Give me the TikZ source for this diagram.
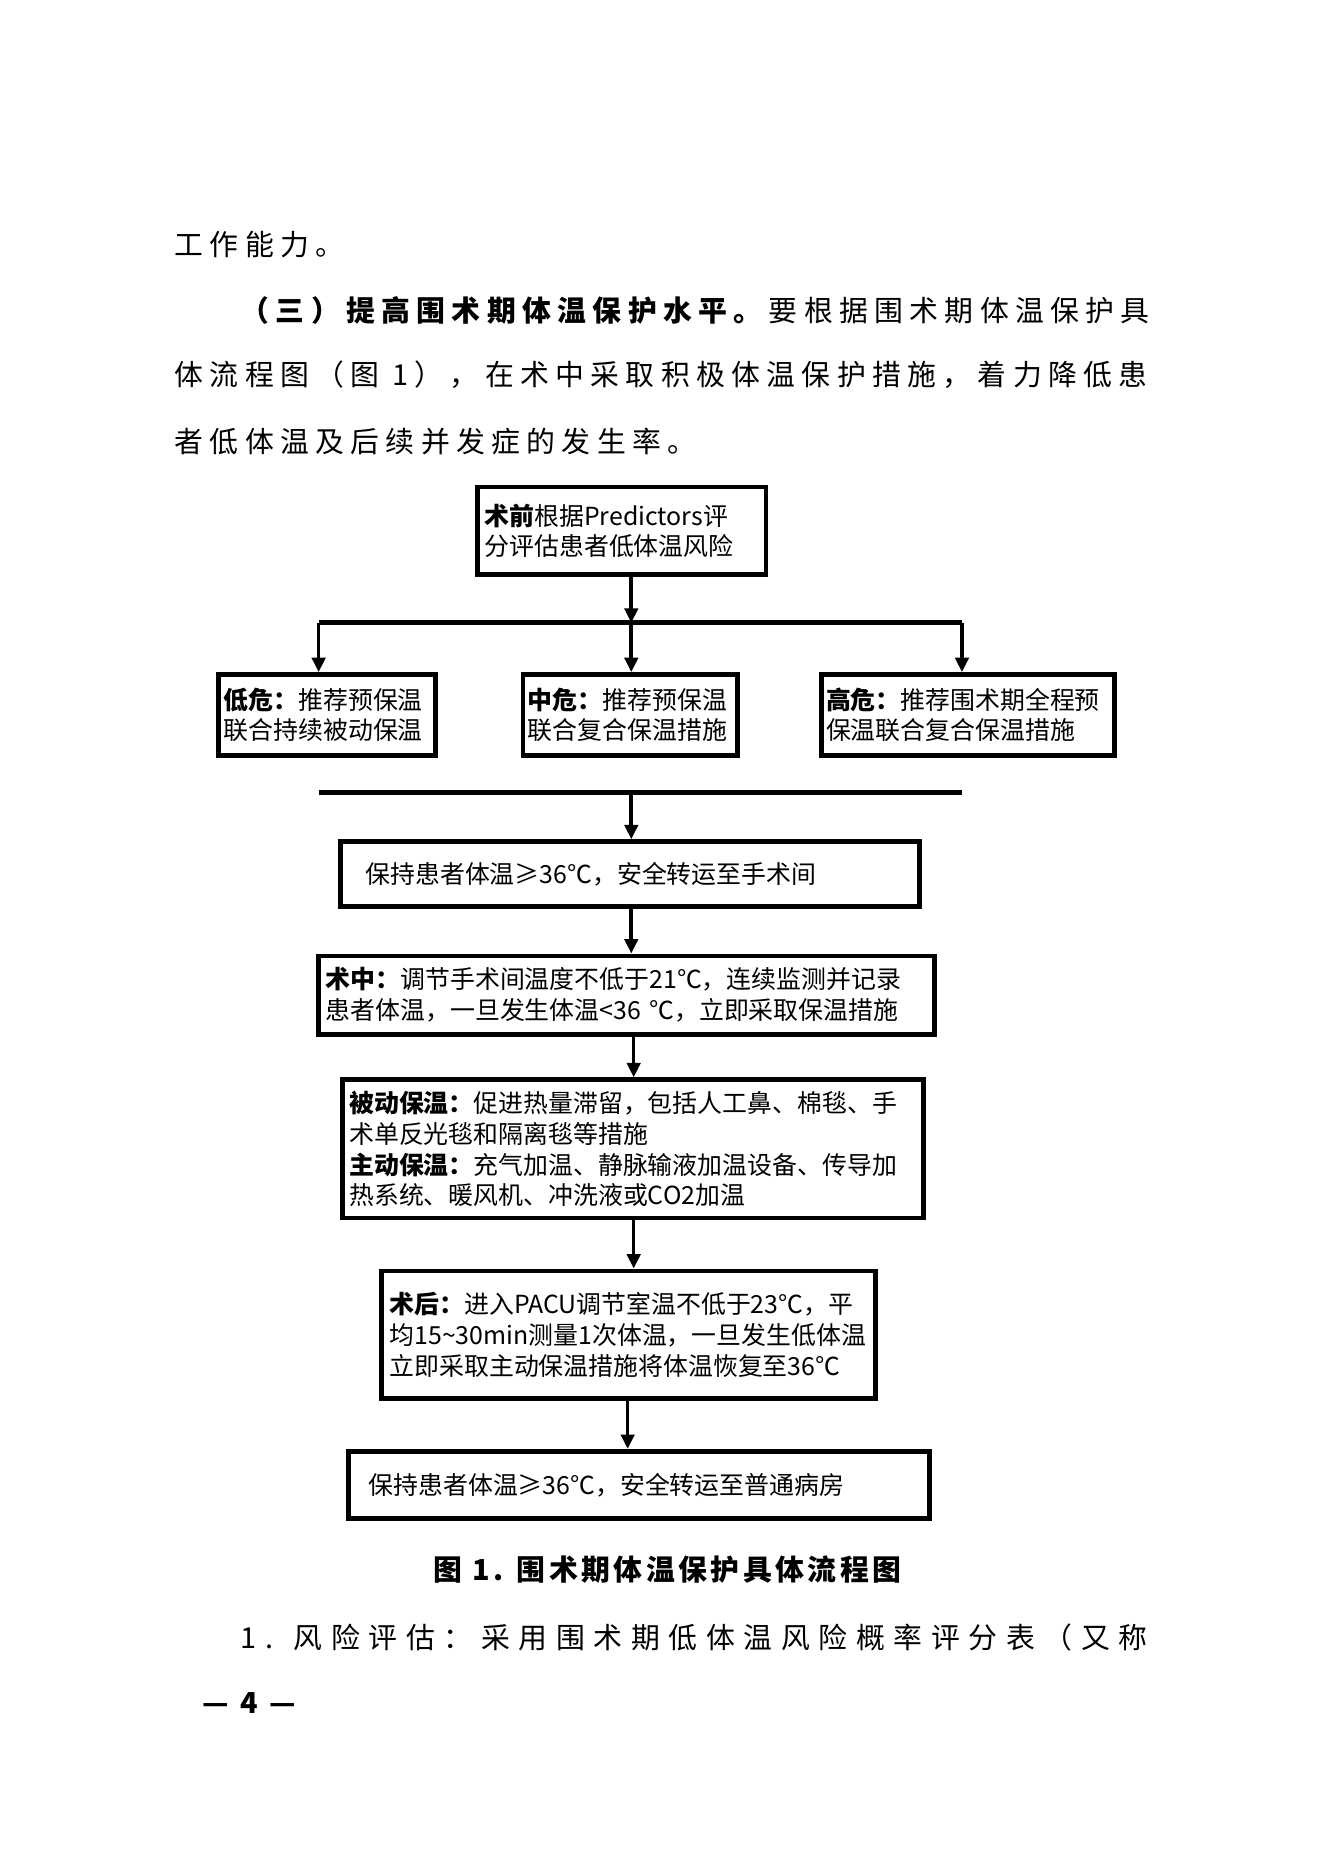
\documentclass[tikz,border=0pt]{standalone}
\usepackage{fontspec}
\setmainfont{Noto Sans CJK SC}
\newfontfamily\bodyf[LetterSpace=22]{Noto Sans CJK SC}
\newfontfamily\bodyw[LetterSpace=30]{Noto Sans CJK SC}
\newfontfamily\capf[LetterSpace=12]{Noto Sans CJK SC}
\usetikzlibrary{arrows.meta}
\tikzset{
  box/.style={draw, line width=4pt, fill=white, inner sep=0pt, font=\fontsize{20.7}{25.7}\selectfont, align=left},
  arr/.style={line width=3pt, -{Triangle[length=12pt,width=11pt]}},
  bar/.style={line width=4pt},
  body/.style={anchor=west, inner sep=0pt, font=\bodyf\fontsize{24}{30}\selectfont}
}
\begin{document}
\begin{tikzpicture}[x=1pt,y=-1pt]
\useasboundingbox (0,0) rectangle (1100,1556);
\node[body] (p1) at (145,203) {工作能力。};
\node[body] (p2) at (200,258) {\textbf{（三）提高围术期体温保护水平。}要根据围术期体温保护具};
\node[body] (p3) at (145,312) {体流程图（图 1），在术中采取积极体温保护措施，着力降低患};
\node[body] (p4) at (145,367) {者低体温及后续并发症的发生率。};

\node[box, minimum width=240pt, minimum height=73pt, text width=228pt] (a) at (517,441.5) {\textbf{术前}根据Predictors评\\分评估患者低体温风险};
\node[box, minimum width=180pt, minimum height=67pt, text width=172pt] (l) at (272,594.5) {\textbf{低危：}推荐预保温\\联合持续被动保温};
\node[box, minimum width=178pt, minimum height=67pt, text width=170pt] (m) at (524,594.5) {\textbf{中危：}推荐预保温\\联合复合保温措施};
\node[box, minimum width=244pt, minimum height=67pt, text width=236pt] (h) at (805,594.5) {\textbf{高危：}推荐围术期全程预\\保温联合复合保温措施};

\coordinate (j1) at (525,518);
\coordinate (bl) at (265,518);
\coordinate (br) at (800,518);
\draw[arr] (a.south -| j1) -- (j1);
\draw[bar] (bl) -- (br);
\draw[arr] (bl) -- (bl |- l.north);
\draw[arr] (j1) -- (j1 |- m.north);
\draw[arr] (br) -- (br |- h.north);

\coordinate (cl) at (265,659);
\coordinate (cr) at (800,659);
\coordinate (c) at (525,659);
\draw[bar] (cl) -- (cr);

\node[box, minimum width=482pt, minimum height=54pt, text width=440pt] (b4) at (524,727) {保持患者体温≥36℃，安全转运至手术间};
\node[box, minimum width=512pt, minimum height=65pt, text width=500pt] (b5) at (521,827.5) {\textbf{术中：}调节手术间温度不低于21℃，连续监测并记录\\患者体温，一旦发生体温<36 ℃，立即采取保温措施};
\node[box, minimum width=483pt, minimum height=115pt, text width=472pt] (b6) at (526.5,955.5) {\textbf{被动保温：}促进热量滞留，包括人工鼻、棉毯、手\\术单反光毯和隔离毯等措施\\\textbf{主动保温：}充气加温、静脉输液加温设备、传导加\\热系统、暖风机、冲洗液或CO2加温};
\node[box, minimum width=411pt, minimum height=106pt, text width=397pt] (b7) at (522.5,1110) {\textbf{术后：}进入PACU调节室温不低于23℃，平\\均15\textasciitilde30min测量1次体温，一旦发生低体温\\立即采取主动保温措施将体温恢复至36℃};
\node[box, minimum width=483pt, minimum height=56pt, text width=450pt] (b8) at (531.5,1235) {保持患者体温≥36℃，安全转运至普通病房};

\draw[arr] (c) -- (c |- b4.north);
\draw[arr] (b4.south -| 525,0) -- (b5.north -| 525,0);
\draw[arr] (b5.south -| 527,0) -- (b6.north -| 527,0);
\draw[arr] (b6.south -| 527,0) -- (b7.north -| 527,0);
\draw[arr] (b7.south -| 522,0) -- (b8.north -| 522,0);

\node[inner sep=0pt, font=\capf\bfseries\fontsize{24}{30}\selectfont] (cap) at (555,1305) {图 1. 围术期体温保护具体流程图};
\node[anchor=west, inner sep=0pt, font=\bodyw\fontsize{24}{30}\selectfont] (p5) at (200,1362) {1. 风险评估：采用围术期低体温风险概率评分表（又称};
\node[anchor=west, inner sep=0pt, font=\bfseries\fontsize{24}{30}\selectfont] (pg) at (168,1416) {— \,4\, —};
\end{tikzpicture}
\end{document}
